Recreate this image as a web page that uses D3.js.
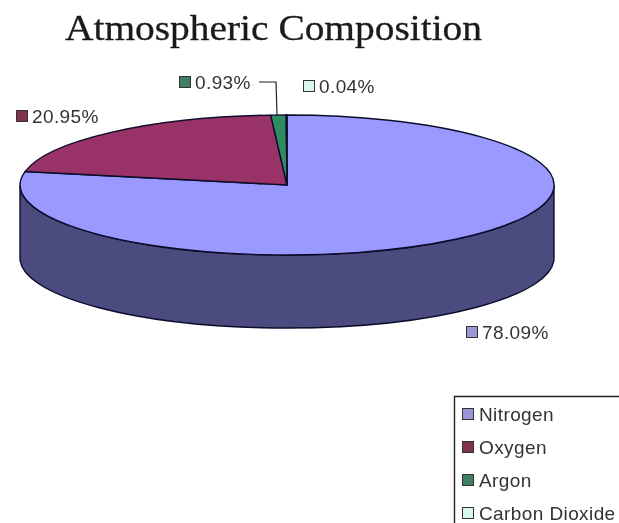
<!DOCTYPE html>
<html>
  <head>
    <meta charset="utf-8">
    <title>Atmospheric Composition</title>
    <script src="https://d3js.org/d3.v7.min.js"></script>
    <style>
      html, body { margin: 0; padding: 0; background: #fff; overflow: hidden; }
      svg { display: block; }
      .lbl { font-family: "Liberation Sans", sans-serif; font-size: 19px; letter-spacing: 0.4px; fill: #333; }
    </style>
  </head>
  <body>
    <div id="chart"></div>
    <script>
      // data
      var categories = ["Nitrogen", "Oxygen", "Argon", "Carbon Dioxide"];
      var shares = [78.09, 20.95, 0.93, 0.04];
      var colors = ["#9999ff", "#993366", "#2e8b62", "#ccffff"];
      var swatchColors = ["#9a96d8", "#80324f", "#3f7f62", "#d8f8f0"];

      // label placement, same order as the categories
      var labelX = [466, 16, 179, 303];
      var labelY = [332, 116, 82, 86];

      var width = 619;
      var height = 523;
      var cx = 287, cy = 185;   // middle of the top face
      var rx = 267, ry = 70;    // ellipse radii
      var depth = 73;           // height of the wall

      var svg = d3.select("#chart")
        .append("svg")
        .attr("width", width)
        .attr("height", height);

      svg.append("defs").append("filter")
        .attr("id", "soft")
        .append("feGaussianBlur")
        .attr("stdDeviation", 0.4);

      var root = svg.append("g").attr("filter", "url(#soft)");

      root.append("text")
        .attr("x", 65)
        .attr("y", 40)
        .attr("font-family", "Liberation Serif, serif")
        .attr("font-size", 36)
        .attr("textLength", 417)
        .attr("lengthAdjust", "spacingAndGlyphs")
        .attr("fill", "#1a1a1a")
        .attr("stroke", "#1a1a1a")
        .attr("stroke-width", 0.3)
        .text("Atmospheric Composition");

      // wall: front half of the ellipse pushed down by depth
      var wall = "M" + (cx - rx) + "," + cy +
        "A" + rx + "," + ry + " 0 0 0 " + (cx + rx) + "," + cy +
        "L" + (cx + rx) + "," + (cy + depth) +
        "A" + rx + "," + ry + " 0 0 1 " + (cx - rx) + "," + (cy + depth) + "Z";

      root.append("path")
        .attr("d", wall)
        .attr("fill", "#4c4c80")
        .attr("stroke", "#0c0c2c")
        .attr("stroke-width", 1.4);

      // top face: unit pie squashed into the ellipse
      var pie = d3.pie().sort(null);
      var arc = d3.arc().innerRadius(0).outerRadius(1);

      root.append("g")
        .attr("transform", "translate(" + cx + "," + cy + ") scale(" + rx + "," + ry + ")")
        .selectAll("path")
        .data(pie(shares))
        .enter()
        .append("path")
        .attr("d", arc)
        .attr("fill", function(d, i) { return colors[i]; })
        .attr("stroke", "#0c0c2c")
        .attr("stroke-width", 1.4)
        .attr("vector-effect", "non-scaling-stroke");

      // leader line of the argon label
      root.append("path")
        .attr("d", d3.line()([[259, 82], [276, 82], [277, 115]]))
        .attr("fill", "none")
        .attr("stroke", "#222")
        .attr("stroke-width", 1.2);

      // percentage labels
      var labels = root.selectAll(".pct")
        .data(shares)
        .enter()
        .append("g")
        .attr("class", "pct")
        .attr("transform", function(d, i) { return "translate(" + labelX[i] + "," + labelY[i] + ")"; });

      labels.append("rect")
        .attr("x", 0.5)
        .attr("y", -5.5)
        .attr("width", 11)
        .attr("height", 11)
        .attr("fill", function(d, i) { return swatchColors[i]; })
        .attr("stroke", "#333");

      labels.append("text")
        .attr("class", "lbl")
        .attr("x", 16)
        .attr("y", 7)
        .text(function(d) { return d3.format(".2f")(d) + "%"; });

      // legend box runs off the right and bottom of the picture
      root.append("path")
        .attr("d", d3.line()([[454.5, 523], [454.5, 396.5], [619, 396.5]]))
        .attr("fill", "none")
        .attr("stroke", "#222")
        .attr("stroke-width", 1.4);

      var legendY = d3.scalePoint().domain(categories).range([414, 513]);

      var legend = root.selectAll(".leg")
        .data(categories)
        .enter()
        .append("g")
        .attr("class", "leg")
        .attr("transform", function(d) { return "translate(462," + legendY(d) + ")"; });

      legend.append("rect")
        .attr("x", 0.5)
        .attr("y", -5.5)
        .attr("width", 11)
        .attr("height", 11)
        .attr("fill", function(d, i) { return swatchColors[i]; })
        .attr("stroke", "#333");

      legend.append("text")
        .attr("class", "lbl")
        .attr("x", 17)
        .attr("y", 6.5)
        .text(function(d) { return d; });
    </script>
  </body>
</html>
